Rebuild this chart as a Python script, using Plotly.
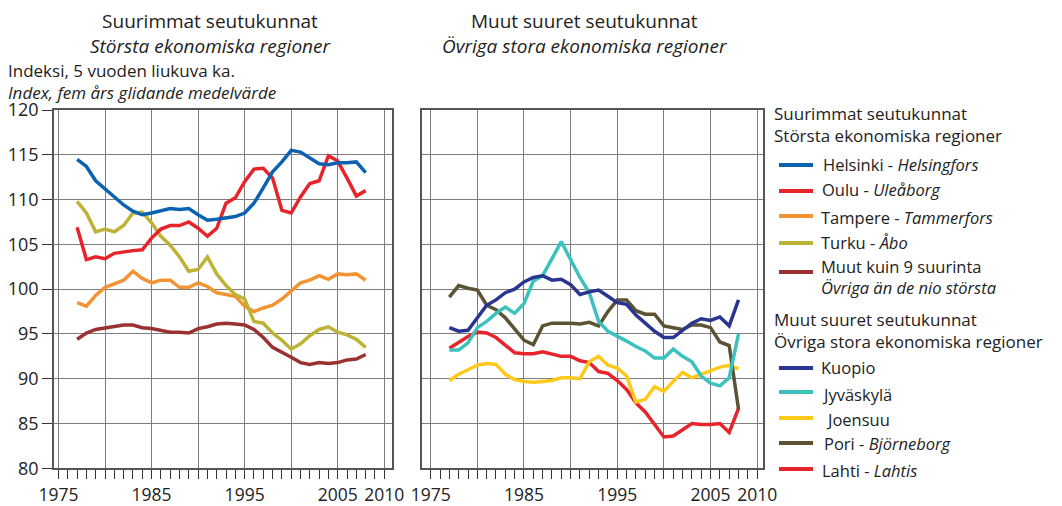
import plotly.graph_objects as go

OFF = 8  # browser body margin
W, H = 1062 - OFF, 506 - OFF
FONT = "Open Sans"

years = list(range(1977, 2009))

# Left panel: largest regions
helsinki = [114.5, 113.7, 112.1, 111.2, 110.3, 109.4, 108.7, 108.3, 108.5, 108.8,
            109.0, 108.9, 109.0, 108.3, 107.7, 107.8, 108.0, 108.1, 108.5, 109.6,
            111.3, 113.1, 114.2, 115.5, 115.3, 114.6, 114.0, 113.9, 114.1, 114.1,
            114.2, 113.0]
oulu = [106.9, 103.3, 103.6, 103.4, 104.0, 104.2, 104.3, 104.4, 105.7, 106.7,
        107.1, 107.1, 107.5, 106.8, 105.9, 106.8, 109.6, 110.2, 112.0, 113.4,
        113.5, 112.4, 108.8, 108.5, 110.3, 111.8, 112.1, 114.9, 114.3, 112.4,
        110.4, 111.0]
tampere = [98.5, 98.1, 99.3, 100.2, 100.6, 101.0, 102.0, 101.2, 100.7, 101.0,
           101.0, 100.2, 100.2, 100.7, 100.3, 99.6, 99.4, 99.2, 98.1, 97.5,
           97.9, 98.2, 98.9, 99.8, 100.7, 101.0, 101.5, 101.1, 101.7, 101.6,
           101.7, 101.0]
turku = [109.8, 108.5, 106.4, 106.7, 106.4, 107.1, 108.5, 108.6, 107.4, 105.9,
         104.9, 103.6, 102.0, 102.2, 103.6, 101.7, 100.4, 99.4, 98.9, 96.4,
         96.2, 95.1, 94.3, 93.3, 93.9, 94.8, 95.5, 95.8, 95.2, 94.9,
         94.4, 93.5]
muut9 = [94.4, 95.1, 95.5, 95.7, 95.8, 96.0, 96.0, 95.7, 95.6, 95.4,
         95.2, 95.2, 95.1, 95.6, 95.8, 96.1, 96.2, 96.1, 96.0, 95.5,
         94.6, 93.5, 93.0, 92.4, 91.8, 91.6, 91.8, 91.7, 91.8, 92.1,
         92.2, 92.7]

# Right panel: other large regions
kuopio = [95.7, 95.3, 95.4, 96.8, 98.2, 98.8, 99.6, 100.0, 100.8, 101.3,
          101.5, 101.0, 101.1, 100.5, 99.4, 99.7, 99.9, 99.2, 98.5, 98.3,
          97.1, 96.2, 95.3, 94.6, 94.6, 95.4, 96.2, 96.7, 96.5, 96.9,
          95.9, 98.8]
jyvaskyla = [93.2, 93.2, 94.0, 95.7, 96.4, 97.3, 98.0, 97.3, 98.4, 100.9,
             101.5, 103.5, 105.3, 103.3, 101.3, 99.6, 96.4, 95.3, 94.8, 94.2,
             93.6, 93.1, 92.3, 92.3, 93.3, 92.5, 91.9, 90.3, 89.5, 89.2,
             90.1, 95.0]
joensuu = [89.8, 90.5, 91.0, 91.5, 91.7, 91.6, 90.5, 89.9, 89.7, 89.6,
           89.7, 89.8, 90.1, 90.1, 90.0, 91.9, 92.5, 91.5, 91.2, 90.3,
           87.4, 87.7, 89.1, 88.6, 89.7, 90.7, 90.1, 90.5, 91.0, 91.3,
           91.5, 91.1]
pori = [99.1, 100.4, 100.1, 99.9, 98.2, 97.7, 96.8, 95.5, 94.3, 93.8,
        95.9, 96.2, 96.2, 96.2, 96.1, 96.3, 95.9, 97.5, 98.8, 98.8,
        97.6, 97.2, 97.2, 95.9, 95.7, 95.5, 96.0, 96.0, 95.7, 94.1,
        93.7, 86.6]
lahti = [93.4, 94.1, 94.7, 95.2, 95.1, 94.6, 93.7, 92.9, 92.8, 92.8,
         93.0, 92.7, 92.5, 92.5, 92.0, 91.8, 90.8, 90.6, 89.8, 88.8,
         87.3, 86.3, 84.9, 83.5, 83.6, 84.3, 85.0, 84.9, 84.9, 85.0,
         84.0, 86.7]

left = [
    ("Muut kuin 9 suurinta", muut9, "#9b3131"),
    ("Tampere - <i>Tammerfors</i>", tampere, "#f39433"),
    ("Turku - <i>Åbo</i>", turku, "#bdb336"),
    ("Oulu - <i>Uleåborg</i>", oulu, "#e8242b"),
    ("Helsinki - <i>Helsingfors</i>", helsinki, "#0a62b0"),
]
right = [
    ("Lahti - <i>Lahtis</i>", lahti, "#e8242b"),
    ("Joensuu", joensuu, "#ffc91c"),
    ("Pori - <i>Björneborg</i>", pori, "#5b5333"),
    ("Jyväskylä", jyvaskyla, "#3cc2be"),
    ("Kuopio", kuopio, "#2a3591"),
]

year_ticks = [1975, 1980, 1985, 1990, 1995, 2000, 2005, 2010]
year_text = ["1975", "", "1985", "", "1995", "", "2005", "2010"]
y_ticks = [80, 85, 90, 95, 100, 105, 110, 115, 120]


def px(x):
    return (x - OFF) / W


def py(y):
    return 1 - (y - OFF) / H


fig = go.Figure()
for name, vals, col in left:
    fig.add_trace(go.Scatter(x=years, y=vals, mode="lines", name=name,
                             line=dict(color=col, width=3.5), xaxis="x", yaxis="y",
                             showlegend=False))
for name, vals, col in right:
    fig.add_trace(go.Scatter(x=years, y=vals, mode="lines", name=name,
                             line=dict(color=col, width=3.5), xaxis="x2", yaxis="y2",
                             showlegend=False))

GRID = "#7d7d7d"
LINE = "#555555"
xcommon = dict(
    tickvals=year_ticks, ticktext=year_text, showgrid=True, gridcolor=GRID, gridwidth=1.3,
    showline=True, mirror=True, linecolor=LINE, linewidth=1.5,
    ticks="outside", ticklen=9, tickcolor="#333", tickwidth=1.2, ticklabelstandoff=1,
    minor=dict(dtick=1, tick0=1975, ticks="outside", ticklen=9, tickcolor="#333",
               tickwidth=1.2, showgrid=False),
    tickfont=dict(family=FONT, size=17.5, color="#222"), zeroline=False, automargin=False,
    fixedrange=True,
)
ycommon = dict(
    range=[80, 120], tickvals=y_ticks, showgrid=True, gridcolor=GRID, gridwidth=1.3,
    showline=True, mirror=True, linecolor=LINE, linewidth=1.5, zeroline=False,
    automargin=False, domain=[py(468.3), py(110)],
    tickfont=dict(family=FONT, size=18, color="#222"),
)

fig.update_layout(
    width=W, height=H, template="none",
    margin=dict(l=0, r=0, t=0, b=0),
    paper_bgcolor="white", plot_bgcolor="white",
    xaxis=dict(xcommon, domain=[px(54), px(392)], range=[1974.52, 2010.83], anchor="y"),
    xaxis2=dict(xcommon, domain=[px(422.3), px(762.5)], range=[1974.10, 2010.57], anchor="y2"),
    yaxis=dict(ycommon, anchor="x", ticks="outside", ticklen=10, tickcolor="#333", tickwidth=1.2),
    yaxis2=dict(ycommon, anchor="x2", showticklabels=False, ticks=""),
    showlegend=False,
)

annotations = []


def txt(text, x, y, size=18, anchor="left"):
    annotations.append(dict(text=text, x=px(x), y=py(y), xref="paper", yref="paper",
                            xanchor=anchor, yanchor="middle", showarrow=False,
                            align=anchor,
                            font=dict(family=FONT, size=size, color="#222")))


TS = 19
txt("Suurimmat seutukunnat<br><i>Största ekonomiska regioner</i>", 211, 34, size=TS, anchor="center")
txt("Muut suuret seutukunnat<br><i>Övriga stora ekonomiska regioner</i>", 585, 34, size=TS, anchor="center")
txt("Indeksi, 5 vuoden liukuva ka.<br><i>Index, fem års glidande medelvärde</i>", 6, 82, size=17)

LS = 16.5
HS = 17
txt("Suurimmat seutukunnat<br>Största ekonomiska regioner", 772, 124.5, size=HS)
txt("Muut suuret seutukunnat<br>Övriga stora ekonomiska regioner", 772, 330, size=HS)

legend_items = [
    ("Helsinki - <i>Helsingfors</i>", "#0a62b0", 165, 165, 821),
    ("Oulu - <i>Uleåborg</i>", "#e8242b", 191, 189, 820),
    ("Tampere - <i>Tammerfors</i>", "#f39433", 216, 217, 819),
    ("Turku - <i>Åbo</i>", "#bdb336", 243, 242, 819),
    ("Muut kuin 9 suurinta<br><i>Övriga än de nio största</i>", "#9b3131", 272, 276.5, 819),
    ("Kuopio", "#2a3591", 368, 367, 819),
    ("Jyväskylä", "#3cc2be", 392, 394, 820),
    ("Joensuu", "#ffc91c", 418, 419, 824),
    ("Pori - <i>Björneborg</i>", "#5b5333", 443, 443, 822),
    ("Lahti - <i>Lahtis</i>", "#e8242b", 469, 470, 820),
]
shapes = []
for label, col, ly, ty, tx in legend_items:
    shapes.append(dict(type="line", xref="paper", yref="paper",
                       x0=px(779), x1=px(813), y0=py(ly), y1=py(ly),
                       line=dict(color=col, width=4)))
    txt(label, tx, ty, size=LS)

fig.update_layout(annotations=annotations, shapes=shapes)
fig.write_html("out.html")
